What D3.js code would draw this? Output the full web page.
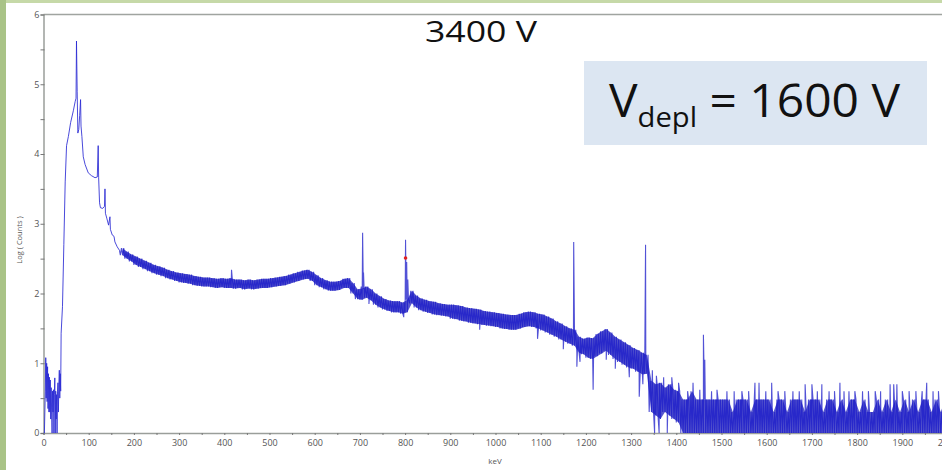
<!DOCTYPE html>
<html>
<head>
<meta charset="utf-8">
<script src="https://cdn.jsdelivr.net/npm/d3@7"></script>
<style>
  body { margin: 0; background: #fff; }
  svg { display: block; }
</style>
</head>
<body>
<svg id="chart" width="942" height="470"></svg>
<script>
// low energy part of the spectrum, a thin trace [keV, log10 counts]
var lowTrace = [
  [0, 0], [2, 0], [4, 0.6], [5, 1.08], [6, 0.5], [7, 1.0], [8, 0.45], [9, 0.95], [10, 0.35],
  [11, 0.85], [12, 0.3], [13, 0.8], [14, 0.3], [15, 0.76], [16, 0.2], [17, 0.65], [18, 0.3],
  [19, 0], [20, 0.6], [21, 0.3], [22, 0.62], [23, 0], [24, 0.55], [25, 0.79], [26, 0],
  [27, 0.6], [28, 0.2], [29, 0.55], [30, 0], [31, 0.6], [32, 0.72], [33, 0.3], [34, 0.7],
  [35, 0.9], [36, 0.5], [37, 0.85], [38, 0.6], [39, 1.43], [42, 1.81], [45, 2.7],
  [48, 3.6], [51, 4.12], [55, 4.25], [60, 4.45], [66, 4.62], [70, 4.75], [72, 4.8],
  [73, 5.62], [74.5, 4.9], [76, 4.3], [78, 4.35], [80, 4.55], [82, 4.78], [83, 4.4],
  [85, 4.25], [88, 3.96], [92, 3.85], [99, 3.73], [106, 3.69], [114, 3.66], [119, 3.67],
  [121, 4.12], [122, 3.66], [124, 3.30], [126, 3.23], [131, 3.22], [135, 3.25], [136, 3.50],
  [137, 3.15], [140, 3.08], [144, 2.98], [147, 3.10], [148, 2.92], [152, 2.84], [156, 2.82],
  [158, 2.74], [163, 2.67], [168, 2.62]
];

// noisy continuum from 170 keV on: lower and upper edge of the band, one pair per 10 keV
var bandStart = 170;
var bandLow = [
  2.55, 2.50, 2.46,
  2.41, 2.38, 2.35, 2.32, 2.29, 2.27, 2.25, 2.22, 2.20, 2.18,
  2.16, 2.15, 2.14, 2.12, 2.11, 2.10, 2.10, 2.09, 2.08, 2.09,
  2.08, 2.08, 2.07, 2.08, 2.06, 2.07, 2.06, 2.07, 2.08, 2.08,
  2.09, 2.10, 2.11, 2.12, 2.14, 2.16, 2.18, 2.20, 2.21, 2.18,
  2.12, 2.09, 2.06, 2.04, 2.04, 2.05, 2.08, 2.08, 2.00, 1.92,
  1.91, 1.94, 1.90, 1.84, 1.80, 1.77, 1.75, 1.73, 1.73, 1.71,
  1.73, 1.86, 1.80, 1.76, 1.74, 1.72, 1.70, 1.69, 1.68, 1.67,
  1.64, 1.63, 1.61, 1.60, 1.58, 1.57, 1.56, 1.55, 1.54, 1.53,
  1.52, 1.50, 1.49, 1.48, 1.48, 1.50, 1.52, 1.53, 1.52, 1.50,
  1.47, 1.44, 1.41, 1.38, 1.34, 1.31, 1.28, 1.25, 1.15, 1.13,
  1.08, 1.06, 1.10, 1.14, 1.18, 1.12, 1.06, 1.02, 0.98, 0.94,
  0.92, 0.88, 0.84, 0.85, 0.30, 0.25, 0.20, 0.30, 0.25, 0.20,
  0.15, 0.00, 0.00, 0.00, 0.00, 0.00, 0.00, 0.00, 0.00, 0.00,
  0.00, 0.00, 0.00, 0.00, 0.00, 0.00, 0.00, 0.00, 0.00, 0.00,
  0.00, 0.00, 0.00, 0.00, 0.00, 0.00, 0.00, 0.00, 0.00, 0.00,
  0.00, 0.00, 0.00, 0.00, 0.00, 0.00, 0.00, 0.00, 0.00, 0.00,
  0.00, 0.00, 0.00, 0.00, 0.00, 0.00, 0.00, 0.00, 0.00, 0.00,
  0.00, 0.00, 0.00, 0.00, 0.00, 0.00, 0.00, 0.00, 0.00, 0.00
];
var bandHigh = [
  2.65, 2.60, 2.56,
  2.53, 2.50, 2.47, 2.44, 2.41, 2.39, 2.37, 2.34, 2.32, 2.30,
  2.29, 2.28, 2.27, 2.25, 2.24, 2.23, 2.23, 2.22, 2.21, 2.22,
  2.21, 2.22, 2.20, 2.20, 2.19, 2.20, 2.19, 2.20, 2.21, 2.21,
  2.22, 2.23, 2.24, 2.25, 2.27, 2.29, 2.31, 2.33, 2.34, 2.31,
  2.26, 2.22, 2.19, 2.17, 2.17, 2.18, 2.21, 2.22, 2.15, 2.06,
  2.07, 2.10, 2.06, 2.00, 1.96, 1.92, 1.90, 1.89, 1.89, 1.87,
  1.91, 2.04, 1.97, 1.93, 1.91, 1.89, 1.88, 1.86, 1.85, 1.84,
  1.84, 1.83, 1.82, 1.80, 1.79, 1.78, 1.77, 1.75, 1.74, 1.73,
  1.72, 1.71, 1.70, 1.69, 1.69, 1.71, 1.73, 1.74, 1.73, 1.71,
  1.70, 1.67, 1.64, 1.60, 1.57, 1.53, 1.50, 1.48, 1.38, 1.35,
  1.37, 1.36, 1.42, 1.46, 1.49, 1.44, 1.38, 1.34, 1.30, 1.26,
  1.22, 1.19, 1.15, 1.12, 0.75, 0.70, 0.72, 0.65, 0.70, 0.62,
  0.60, 0.48, 0.48, 0.60, 0.48, 0.48, 0.48, 0.48, 0.48, 0.48,
  0.48, 0.48, 0.30, 0.48, 0.48, 0.48, 0.30, 0.48, 0.48, 0.48,
  0.48, 0.30, 0.48, 0.48, 0.30, 0.48, 0.48, 0.48, 0.30, 0.48,
  0.48, 0.48, 0.30, 0.48, 0.48, 0.30, 0.48, 0.30, 0.48, 0.48,
  0.30, 0.48, 0.30, 0.30, 0.48, 0.30, 0.48, 0.30, 0.48, 0.30,
  0.48, 0.30, 0.48, 0.30, 0.48, 0.48, 0.30, 0.48, 0.30, 0.48
];

// gamma lines [keV, log10 counts]
var peaks = [
  [416, 2.34], [703, 2.1], [706, 2.87], [708, 2.3], [801, 2.77], [803.5, 2.45], [806, 2.2],
  [1173, 2.74], [1332, 2.70], [1460, 1.41], [1463, 1.05]
];
// single channels sticking out of the noise band [keV, log10 counts]
var spikes = [
  [720, 1.85], [797, 1.66], [965, 1.48], [1093, 1.35], [1150, 1.2], [1180, 0.95],
  [1187, 1.02], [1216, 0.62], [1245, 1.05], [1265, 0.92], [1296, 0.8], [1318, 0.52],
  [1326, 0.7], [1347, 0.9], [1352, 0], [1356, 0.82], [1362, 0], [1372, 0.8], [1380, 0],
  [1390, 0.8], [1405, 0.72], [1425, 0.6], [1437, 0.72], [1452, 0.62], [1478, 0.6],
  [1490, 0.62], [1512, 0.6], [1528, 0.6], [1545, 0.6], [1560, 0.6], [1574, 0.72],
  [1583, 0.72], [1598, 0.6], [1611, 0.72], [1625, 0.6], [1640, 0.6], [1658, 0.6],
  [1672, 0.6], [1685, 0.7], [1700, 0.7], [1712, 0.6], [1722, 0.7], [1738, 0.6],
  [1750, 0.6], [1762, 0.72], [1771, 0.6], [1782, 0.6], [1795, 0.6], [1812, 0.6],
  [1825, 0.6], [1840, 0.6], [1852, 0.6], [1873, 0.7], [1881, 0.7], [1888, 0.7],
  [1900, 0.6], [1915, 0.6], [1930, 0.6], [1944, 0.6], [1954, 0.72], [1968, 0.6],
  [1980, 0.6], [1993, 0.6]
];
var marker = [801, 2.51];

var title = "3400 V";
var yTitle = "Log ( Counts )";
var xTitle = "keV";

var svg = d3.select("#chart");

// slide decoration
svg.append("rect").attr("x", 0).attr("y", 0).attr("width", 942).attr("height", 3).attr("fill", "#c6d9a8");
svg.append("rect").attr("x", 0).attr("y", 0).attr("width", 6).attr("height", 470).attr("fill", "#a9c387");

var x = d3.scaleLinear().domain([0, 2000]).range([43.5, 947.5]);
var y = d3.scaleLinear().domain([0, 6]).range([433, 14.5]);

// top frame line
svg.append("line")
  .attr("x1", x(0)).attr("x2", 942)
  .attr("y1", y(6)).attr("y2", y(6))
  .attr("stroke", "#a0a4a0").attr("stroke-width", 1.5);

var xAxis = d3.axisBottom(x)
  .tickValues(d3.range(0, 2001, 50))
  .tickFormat(function(d) { return d % 100 === 0 ? d : ""; })
  .tickSize(2).tickPadding(5);

var yAxis = d3.axisLeft(y)
  .tickValues(d3.range(0, 6.01, 0.5))
  .tickFormat(function(d) { return d % 1 === 0 ? d : ""; })
  .tickSize(3).tickPadding(1);

var gx = svg.append("g").attr("transform", "translate(0," + y(0) + ")").call(xAxis);
var gy = svg.append("g").attr("transform", "translate(" + x(0) + ",0)").call(yAxis);

[gx, gy].forEach(function(g) {
  g.select(".domain").attr("stroke", "#9a9e9a").attr("stroke-width", 1.5);
  g.selectAll(".tick line").attr("stroke", "#777");
  g.selectAll(".tick text")
    .attr("fill", "#555")
    .attr("font-family", "Open Sans, sans-serif")
    .attr("font-size", 9);
});
gy.selectAll(".tick line").attr("x2", -3).attr("x1", 1);

svg.append("text")
  .attr("transform", "translate(22,240) rotate(-90)")
  .attr("text-anchor", "middle")
  .attr("font-family", "Open Sans, sans-serif")
  .attr("font-size", 7.5)
  .attr("fill", "#555")
  .text(yTitle);

svg.append("text")
  .attr("x", 495).attr("y", 464)
  .attr("text-anchor", "middle")
  .attr("font-family", "Open Sans, sans-serif")
  .attr("font-size", 8)
  .attr("fill", "#555")
  .text(xTitle);

svg.append("clipPath").attr("id", "plotclip")
  .append("rect").attr("x", x(0)).attr("y", y(6)).attr("width", 942 - x(0)).attr("height", y(0) - y(6) + 1);

var line = d3.line()
  .x(function(d) { return x(d[0]); })
  .y(function(d) { return y(d[1]); });

// thin trace of the low energy part
svg.append("path")
  .datum(lowTrace)
  .attr("clip-path", "url(#plotclip)")
  .attr("d", line)
  .attr("fill", "none")
  .attr("stroke", "#2a2ad4")
  .attr("stroke-opacity", 0.85)
  .attr("stroke-width", 1);

// dense core of the noise band
var bandArea = d3.area()
  .x(function(d, i) { return x(bandStart + i * 10 + 5); })
  .y0(function(d, i) { return y(bandLow[i]); })
  .y1(function(d, i) { return y(bandHigh[i]); });

svg.append("path")
  .datum(bandLow)
  .attr("clip-path", "url(#plotclip)")
  .attr("d", bandArea)
  .attr("fill", "#1010b8")
  .attr("fill-opacity", 0.7);

// noisy part: each band bin drawn as a tight zigzag, lines and spikes merged in
var pts = [lowTrace[lowTrace.length - 1]];
bandLow.forEach(function(lo, i) {
  var e0 = bandStart + i * 10;
  var hi = bandHigh[i];
  pts.push([e0, lo], [e0 + 2.5, hi], [e0 + 5, lo], [e0 + 7.5, hi]);
});
peaks.concat(spikes).forEach(function(p) { pts.push(p); });
pts.sort(function(a, b) { return a[0] - b[0]; });

svg.append("path")
  .datum(pts)
  .attr("clip-path", "url(#plotclip)")
  .attr("d", line)
  .attr("fill", "none")
  .attr("stroke", "#1818c8")
  .attr("stroke-opacity", 0.75)
  .attr("stroke-width", 1.1);

svg.append("circle")
  .attr("cx", x(marker[0])).attr("cy", y(marker[1]))
  .attr("r", 1.8).attr("fill", "#e02020");

// annotations
svg.append("text")
  .attr("x", 425).attr("y", 42)
  .attr("font-family", "Open Sans, sans-serif")
  .attr("font-size", 29)
  .attr("fill", "#111")
  .attr("textLength", 112)
  .attr("lengthAdjust", "spacingAndGlyphs")
  .text(title);

svg.append("rect")
  .attr("x", 584).attr("y", 61).attr("width", 343).attr("height", 84)
  .attr("fill", "#dce6f2");

var vt = svg.append("text")
  .attr("x", 609).attr("y", 117)
  .attr("font-family", "Open Sans, sans-serif")
  .attr("font-size", 46)
  .attr("fill", "#111")
  .attr("textLength", 291)
  .attr("lengthAdjust", "spacingAndGlyphs");
vt.append("tspan").text("V");
vt.append("tspan").attr("font-size", 28).attr("dy", 10).text("depl");
vt.append("tspan").attr("dy", -10).text(" = 1600 V");
</script>
</body>
</html>
